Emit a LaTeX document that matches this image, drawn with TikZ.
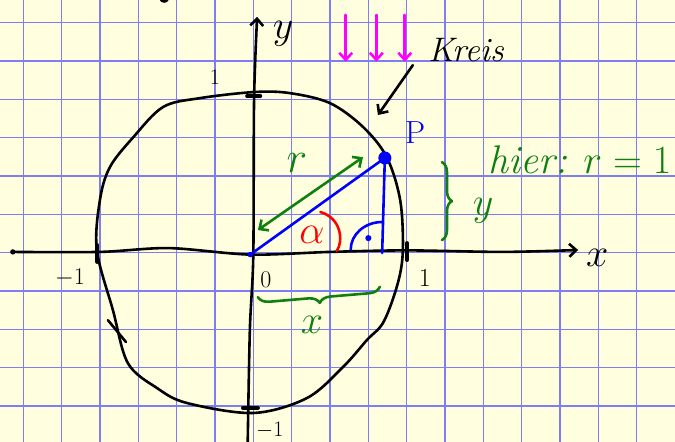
\documentclass[tikz,border=0pt]{standalone}
\usepackage{fix-cm}
\usepackage{amsmath}
\usepackage{xcolor}
\usepackage{tikz}
\usetikzlibrary{arrows.meta,decorations.pathreplacing}
\definecolor{paper}{RGB}{255,255,224}
\definecolor{gridblue}{RGB}{125,125,245}
\definecolor{penblue}{RGB}{0,0,255}
\definecolor{pengreen}{RGB}{15,128,15}
\definecolor{penred}{RGB}{255,0,0}
\definecolor{penpink}{RGB}{255,0,255}
\newcommand{\hand}[1]{\fontsize{#1}{#1}\selectfont}

\begin{document}
\begin{tikzpicture}[x=38.35pt,y=38.35pt,>={Straight Barb[length=7pt,width=13pt]},
    line cap=round,line join=round,
    pen/.style={line width=2.6pt},
    tick/.style={line width=4pt}]
  % squared paper
  \fill[paper] (-6.605,-4.936) rectangle (10.996,6.589);
  \useasboundingbox (-6.605,-4.936) rectangle (10.996,6.589);
  \draw[gridblue,line width=1.3pt,step=38.35pt] (-6.605,-4.936) grid (10.996,6.589);

  \coordinate (O) at (-0.08,-0.05);
  \coordinate (P) at (3.43,2.47);
  \coordinate (F) at (3.36,-0.01);

  % axes
  \coordinate (xstart) at (-6.27,0.02);
  \coordinate (xend) at (8.47,0.07);
  \coordinate (ystart) at (-0.15,-5.2);
  \coordinate (yend) at (0.1,6.15);
  \draw[pen,->] plot[smooth] coordinates {(xstart) (-4,0.02) (-2.2,0.12) (O) (2,0.02) (4,0.06) (6.5,0.02) (xend)};
  \draw[pen,->] plot[smooth] coordinates {(ystart) (-0.09,-2.02) (0,-0.06) (0.02,3.98) (yend)};
  \fill (xstart) circle (0.07);
  \node[font=\hand{40}] (xlab) at (8.97,-0.14) {$x$};
  \node[font=\hand{40}] (ylab) at (0.78,5.7) {$y$};

  % ticks
  \draw[tick] (-0.16,4.08) -- (0.18,4.08);
  \draw[tick] (-0.27,-4.05) -- (0.12,-4.05);
  \draw[tick] (4.01,0.25) -- (4.01,-0.19);
  \draw[tick] (-4.07,0.2) -- (-4.07,-0.24);
  \node[font=\hand{22}] (one_top) at (-1.0,4.58) {1};
  \node[font=\hand{24}] (one_left) at (-4.78,-0.66) {$-1$};
  \node[font=\hand{24}] (zero) at (0.33,-0.71) {0};
  \node[font=\hand{26}] (one_right) at (4.47,-0.66) {1};
  \node[font=\hand{22}] (one_bottom) at (0.43,-4.62) {$-1$};

  % circle
  \draw[pen] plot[smooth cycle,tension=0.55] coordinates {
    (0.04,4.19) (-1.39,4.03) (-2.35,3.8) (-3.13,3.01) (-3.74,2.23)
    (-4,1.37) (-4.08,0.07) (-3.66,-1.5) (-3.27,-2.88) (-2.51,-3.53)
    (-1.73,-3.92) (0,-4.18) (1.4,-3.79) (2.34,-2.98) (2.96,-2.28)
    (3.4,-1.8) (3.77,-0.79) (3.9,0.07) (3.83,1.37) (3.48,2.49)
    (2.86,3.28) (2,3.9) (0.96,4.16)};
  \draw[pen] (-3.79,-1.76) -- (-3.32,-2.33);
  \draw[pen] (-2.42,6.62) .. controls (-2.38,6.53) and (-2.28,6.53) .. (-2.24,6.6);

  % triangle
  \draw[pen,penblue] (O) -- (P) -- (F);
  \fill[penblue] (P) circle (0.17);
  \fill[penblue] (O) circle (0.07);
  \draw[pen,penblue] (2.54,0.08) arc[start angle=180,end angle=90,x radius=0.82,y radius=0.72];
  \fill[penblue] (3.0,0.38) circle (0.08);
  \node[penblue,font=\hand{32}] (Plab) at (4.22,3.12) {P};

  % angle
  \draw[pen,penred] (1.75,1.06) .. controls (2.3,0.9) and (2.35,0.3) .. (2.18,0.05);
  \node[penred,font=\hand{40}] (alpha) at (1.53,0.46) {$\alpha$};

  % radius, x and y
  \coordinate (r1) at (0.12,0.59);
  \coordinate (r2) at (2.86,2.49);
  \draw[pen,pengreen,<->] (r1) -- (r2);
  \node[pengreen,font=\hand{44}] (rlab) at (1.14,2.34) {$r$};
  \draw[pen,pengreen,decorate,decoration={brace,amplitude=11pt}] (3.3,-0.89) -- (0.12,-1.16);
  \node[pengreen,font=\hand{40}] (xgreen) at (1.53,-1.89) {$x$};
  \draw[pen,pengreen,decorate,decoration={brace,amplitude=10pt}] (4.92,2.36) -- (4.92,0.33);
  \node[pengreen,font=\hand{40}] (ygreen) at (5.99,1.08) {$y$};
  \node[pengreen,font=\hand{40}] (hier) at (8.52,2.41) {\textit{hier:} $r=1$};

  % Kreis
  \node[font=\hand{34}] (kreis) at (5.55,5.29) {\textit{Kreis}};
  \coordinate (k1) at (4.16,4.89);
  \coordinate (k2) at (3.25,3.59);
  \draw[pen,->] (k1) -- (k2);
  \foreach \i/\x in {1/2.41,2/3.21,3/3.95} {
    \coordinate (m\i a) at (\x,6.2);
    \coordinate (m\i b) at (\x,4.98);
    \draw[pen,penpink,->] (m\i a) -- (m\i b);
  }
\end{tikzpicture}
\end{document}
